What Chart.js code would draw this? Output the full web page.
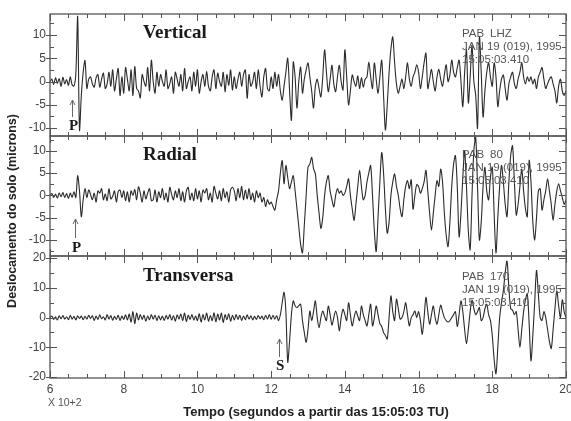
<!DOCTYPE html>
<html>
<head>
<meta charset="utf-8">
<script src="https://cdn.jsdelivr.net/npm/chart.js@4.4.1/dist/chart.umd.min.js"></script>
<style>
  body { margin: 0; background: #fff; }
  #quadro { position: relative; width: 571px; height: 421px; }
  #quadro canvas { position: absolute; left: 0; top: 0; }
</style>
</head>
<body>
<div id="quadro">
  <canvas id="cVertical" width="571" height="421"></canvas>
  <canvas id="cRadial" width="571" height="421"></canvas>
  <canvas id="cTransversa" width="571" height="421"></canvas>
</div>
<script>
//*** Amostras (microns), uma a cada 0,05 x 10+2 s, a partir de t = 6
const inicio = 6;
const passo = 0.05;

const vertical = [
  0, 0.5, -0.6, 0.8, -0.4, 0.6, -1, 0.9, -0.5, 0.4, -0.8, 1, -0.7, -1, 1.5, 14, -10.4, -3, 2, 4.5,
  -1.5, 0.5, 1, -0.5, -1.2, 0.8, 1.5, -1.2, 0.5, 1.8, -1.5, -0.5, 2, -1, 2.5, -2, 0.5, 2.8, -3, 1,
  -2.5, 3, 0.5, -2, 2.5, -3, 3.2, -1.5, -2, -3.5, 1.5, 0, -1, 3, -2, 4.6, 0, -2.5, 2, -1,
  1.5, 0, -1, 2.5, -1.5, -0.5, 1, -2.5, 2, 0.5, -1, 1.5, -2, 2.8, -1.5, 0, 1, -2, 2, -1,
  2.5, -2.5, 0, 1.5, -1, 2.2, -1, -2, 1, 2.5, -1.5, 1.8, 0, -1, 2, -2.2, 1.5, -0.8, 2.5, -1.8,
  1, -1.5, 0.5, 2, -1, 1.5, 2.5, -3.6, 1.5, -1, 0, 2, -1.5, 2.5, -1, -3.3, 1, 2.8, -1.5, -2,
  1, -1.5, 2, -1, 1.5, -2, -4, -1, 2, 5, -2, -8.3, 4.2, 1, -5.7, 0, 3.1, -2.5, 0.5, 2.5,
  4, 1, -2, -5.7, -1, 0.5, -1.5, -3.3, 1, 6.8, 2, -2.2, 0.5, 3.5, -0.5, -2.2, 1, 3.5, 0, -1.8,
  6.8, 1, -5, -2, 1.4, 0, -1, 1.2, -1.5, 0.8, -1.2, 0.5, 1, 4.2, 1, -1.5, 4, 0.5, -2.5, 1,
  4.6, -3, -10.4, -5, 2, 7, 9.6, 4, -0.5, -2.5, -1, 0.5, -1.5, 1, 4, 0.5, -1, 1, 2, 3.6,
  2, -1.5, 1, 4, 6.1, -1.5, 0.5, 2.6, 0, -2, 1, 2.6, 0.5, -1, 1.5, 3.6, 0, 1.5, 4.6, 2,
  1, 3, 4.6, 0, -5.4, 2, 6.8, -4.6, 1, 7.8, 0, -3, -10, 9.6, 2, -7.6, -2, 2, 4, 1,
  -1, 4, 1, -5.4, -2, 0.5, 1.4, -1.5, -4, -0.5, 1, 2, -0.5, -1.5, 0.5, 2, 4, 1, -0.5, 1,
  0, 1, -0.5, 0.5, -1.5, 1, 2, 3, 0.5, -1.5, -0.5, 0.5, 1, -0.5, -2, -4.6, -1, 0.5, -2, -3,
  -2,
];

const radial = [
  0, 0.4, -0.5, 0.3, -0.6, 0.5, -0.3, 0.6, -0.5, 0.4, -0.7, 0.5, -0.4, 0.8, -0.5, 4.4, 1, -4.8, -1, 1.5,
  -0.5, 1.2, 0.2, -1, 0.5, -1.5, 1, 0.5, 1.5, -1, 0.3, -1.2, 1.5, -0.8, -0.2, 1, -1.5, 0.8, 1.2, -0.5,
  1, -1.2, 0.8, -1.5, 1, 0, 1.3, -1, 1.9, 0.5, -1.5, 1, -0.8, 0.5, 1.5, -1.2, -1, 1.2, -1.5, 0.8,
  -0.5, 1.5, -1, 0.5, -1.5, 1.8, 0.2, -1, 1, -0.5, 1.5, -1.2, 0.8, -1.5, 1, 1.8, -1, 0.5, -1.2, 1.5,
  -0.8, 1, -1.5, 1.2, 0.5, 1.5, -1, 0.5, -1.5, 2, 0.5, -0.8, 1, -1.2, 1.5, -0.5, 0.8, -1.5, 1.2, 1.8,
  1, -1.2, 1.5, -0.5, 2, -1, 1.2, -0.8, 1.5, -1, 0.5, -1.5, 1, -0.5, 0.5, -1.5, -0.5, -2.5, -1, -2,
  -1.5, -2.5, -3.3, -1, 1, 5, 7.8, 2.6, 6.7, 4, 1.5, 3, 4.4, 1, -3, -7, -11, -12.9, -6.7, 0,
  6.3, 7, 8.5, 6, 4.8, 0, -4, -7.4, -5, 0, 3, 4.4, 1, -1, -2.6, 0, 1.5, 0.5, 1, 0,
  0.5, 2, 3.7, 0, -3, -5.6, -2, 2, 5.6, 2, -1, 0, 3, 5, 6.7, 0, -8, -12.6, -5, 3,
  9.6, 5, -3, -8.5, -6, 0, 3, 4.8, 2, 0, -3, -4.8, -1, 2, 3.3, 1.5, 3.5, -3.1, 0, 2.4,
  2, 0.5, 1.5, 3, 5.6, 1, -4, -7.8, -4, 0, 3.3, 2, 5.9, 3, -4, -9, -11.5, -6, 2, 7,
  8.9, 2, -9.3, -4, 4, 10, 2, -8, -12.2, 0, 10, 13, 2, -10, -6, 2, 6.3, 1, -1, 4,
  6.3, -4, -12.9, -5, 2, 6.7, 3, -2, -4.8, 3, 9, 11.1, 3, -4.4, -2, 2, 5.9, 1, -3, -4.8,
  7.8, 3, -6, -10, -5, 1, 1.5, -3.3, -1, 1, 3.7, 1, -2, -5.6, -2, 1, 2.6, 1, -0.5, -2,
  -1,
];

const transversa = [
  0, 0.5, -0.6, 0.3, -0.8, 0.6, -0.4, 0.7, -0.5, 0.3, -0.7, 0.8, -0.5, 0.4, -0.8, 0.6, -0.3, 0.5, -0.7, 0.4,
  -0.5, 0.8, -0.3, 0.6, -1, 0.5, -0.6, 0.9, -0.4, 0.3, -0.8, 1, -0.5, 0.7, -0.9, 0.4, -0.6, 0.8, -1, 0.5,
  -0.6, 0.9, -0.8, 1.2, -1.5, 2, -2, 1.5, -0.8, 1, -0.6, 0.8, -1.2, 0.5, -0.7, 1, -0.5, 0.8, -1, 0.6,
  -0.8, 0.5, -1, 0.7, -0.5, 1, -0.8, 0.6, -1.2, 0.9, -0.5, 1.2, -1, 1.5, -1.3, 0.8, -0.6, 1, -0.8, 0.5,
  -1, 1.3, -1.5, 1, -0.8, 1.5, -1.2, 0.7, -1, 1.6, -1.4, 1.2, -0.8, 1.5, -1.6, 1, -0.7, 1.3, -1.2, 0.8,
  -0.8, 1, -0.6, 0.8, -1, 0.5, -0.7, 0.9, -0.5, 0.6, -0.8, 0.4, -0.6, 0.7, -0.4, 0.5, -0.7, 0.8, -0.5, 1,
  -0.6, 0.8, -0.5, 0.6, -1, 1, 5, 8.5, 2, -15, -8, 1, 5.6, 4, 3.4, 4, 4.5, -1, -5, -8.3,
  -4, 2.2, -1, 2, 5.6, 0, -3.4, 0, 2.2, 0.5, -1, 3.9, 1, -2.5, 0, 2.2, 0, -4.5, 0, 2.8,
  1, -1, 5, 1, -2.8, 0, 2.2, 0.5, -1, 3.9, 1, -1, -2.8, 1, 4.5, -2.8, 0, 3.9, 1, -2,
  -3, -5, -6, -7.2, 0, 7.3, 2, -1, 6.2, 3, -0.5, 0, 2, 5, 1, -2.8, 0, 1, 2.2, 0,
  2, -1, -5.6, 0, 6.8, 2, -2.2, 1, 3.9, 0, -2.2, 1, 4.2, 2, 0, -1, -1.5, -1, 0, 1,
  2, -3, 1, 5.6, 2, -4, -8.8, -4, 2, 5.9, 3, 1, 2, 3.4, -1, 0, 3, 4.5, 1, -1,
  -6, -14, -18.9, -10, 0, 5, 9, 15, 19, 10, 3, 2.5, 1, 2, -4, -10, -4, 2, 6, 8,
  -2, -14.5, -6, 5, 15.8, 8, 0, -1, 2, 0, -4, -8, -10.4, -4, 3, 9, 4, 0, 6, 2,
  0,
];

const ticksX = [6, 8, 10, 12, 14, 16, 18, 20];
const ticksVertical = [-10, -5, 0, 5, 10];
const menoresVertical = [-7.5, -2.5, 2.5, 7.5, 12.5];
const ticksRadial = [-10, -5, 0, 5, 10];
const menoresRadial = [-12.5, -7.5, -2.5, 2.5, 7.5, 12.5];
const ticksTransversa = [-20, -10, 0, 10, 20];
const menoresTransversa = [-15, -5, 5, 15];
const estacao = ["JAN 19 (019), 1995", "15:05:03.410"];

const fonteFina = '"Liberation Sans Narrow", "Liberation Sans", sans-serif';
const fonteSerif = '"Liberation Serif", "DejaVu Serif", serif';

//*** Paineis
const paineis = {
  cVertical: {
    dados: vertical, min: -11.7, max: 14.5, ticks: ticksVertical, menores: menoresVertical,
    topo: 14, baixo: 285, eixoX: false,
    nome: "Vertical", nomeY: 38, canal: "LHZ", estacaoY: 37,
    fase: "P", faseX: 69, faseY: 130, seta: [72.5, 117, 100],
  },
  cRadial: {
    dados: radial, min: -13.6, max: 13.3, ticks: ticksRadial, menores: menoresRadial,
    topo: 136, baixo: 165, eixoX: false,
    nome: "Radial", nomeY: 160, canal: "80", estacaoY: 158,
    fase: "P", faseX: 72, faseY: 252, seta: [75.5, 238, 219],
  },
  cTransversa: {
    dados: transversa, min: -20.3, max: 20.7, ticks: ticksTransversa, menores: menoresTransversa,
    topo: 256, baixo: 23, eixoX: true,
    nome: "Transversa", nomeY: 281, canal: "170", estacaoY: 280,
    fase: "S", faseX: 276, faseY: 370, seta: [279.5, 357, 339],
  },
};

const moldura = {
  id: "moldura",
  afterDraw(chart) {
    const p = paineis[chart.canvas.id];
    const { ctx, chartArea: a } = chart;
    const x = chart.scales.x;
    const y = chart.scales.y;
    ctx.save();

    ctx.strokeStyle = "#555";
    ctx.lineWidth = 1.3;
    ctx.strokeRect(a.left, a.top, a.right - a.left, a.bottom - a.top);

    // marcas de tempo em cima e em baixo
    ctx.lineWidth = 1;
    ctx.beginPath();
    for (let t = ticksX[0]; t <= ticksX[ticksX.length - 1]; t += 0.5) {
      const px = Math.round(x.getPixelForValue(t)) + 0.5;
      const len = ticksX.includes(t) ? 7 : 4;
      ctx.moveTo(px, a.top);
      ctx.lineTo(px, a.top + len);
      ctx.moveTo(px, a.bottom);
      ctx.lineTo(px, a.bottom - len);
    }
    p.ticks.forEach((v) => {
      const py = Math.round(y.getPixelForValue(v)) + 0.5;
      ctx.moveTo(a.left - 4, py);
      ctx.lineTo(a.left + 7, py);
      ctx.moveTo(a.right, py);
      ctx.lineTo(a.right - 7, py);
    });
    p.menores.forEach((v) => {
      const py = Math.round(y.getPixelForValue(v)) + 0.5;
      ctx.moveTo(a.left, py);
      ctx.lineTo(a.left + 4, py);
      ctx.moveTo(a.right, py);
      ctx.lineTo(a.right - 4, py);
    });
    ctx.stroke();

    // nome da componente
    ctx.fillStyle = "#1a1a1a";
    ctx.font = "bold 19px " + fonteSerif;
    ctx.textAlign = "left";
    ctx.textBaseline = "alphabetic";
    ctx.fillText(p.nome, 143, p.nomeY);

    // estacao
    ctx.fillStyle = "#555";
    ctx.font = "11.5px " + fonteFina;
    ctx.fillText("PAB", 462, p.estacaoY);
    ctx.fillText(p.canal, 490, p.estacaoY);
    ctx.fillText(estacao[0], 462, p.estacaoY + 13);
    ctx.fillText(estacao[1], 462, p.estacaoY + 26);

    // chegada da onda
    const [sx, y1, y2] = p.seta;
    ctx.strokeStyle = "#666";
    ctx.lineWidth = 1;
    ctx.beginPath();
    ctx.moveTo(sx, y1);
    ctx.lineTo(sx, y2);
    ctx.moveTo(sx - 2.5, y2 + 5);
    ctx.lineTo(sx, y2);
    ctx.lineTo(sx + 2.5, y2 + 5);
    ctx.stroke();
    ctx.fillStyle = "#1a1a1a";
    ctx.font = "bold 15px " + fonteSerif;
    ctx.fillText(p.fase, p.faseX, p.faseY);

    if (p.eixoX) {
      ctx.fillStyle = "#555";
      ctx.font = "10.5px " + fonteFina;
      ctx.fillText("X 10+2", 48, 406);

      ctx.fillStyle = "#222";
      ctx.font = "bold 13px Liberation Sans, Arial, sans-serif";
      ctx.textAlign = "center";
      ctx.fillText("Tempo (segundos a partir das 15:05:03 TU)", 316, 416);

      ctx.translate(13, 211);
      ctx.rotate(-Math.PI / 2);
      ctx.textBaseline = "middle";
      ctx.font = "bold 12.5px Liberation Sans, Arial, sans-serif";
      ctx.fillText("Deslocamento do solo (microns)", 0, 0);
    }
    ctx.restore();
  },
};

const criarPainel = (id) => {
  const p = paineis[id];
  const config = {
    type: "line",
    data: {
      datasets: [
        {
          data: p.dados.map((v, i) => ({ x: inicio + i * passo, y: v })),
          borderColor: "#2b2b2b",
          borderWidth: 1.1,
          pointRadius: 0,
          tension: 0.3,
          fill: false,
        },
      ],
    },
    options: {
      responsive: false,
      animation: false,
      events: [],
      layout: { padding: { left: 0, right: 5, top: p.topo, bottom: p.baixo } },
      plugins: { legend: { display: false }, tooltip: { enabled: false } },
      scales: {
        x: {
          type: "linear",
          min: 6,
          max: 20,
          display: p.eixoX,
          grid: { display: false, drawTicks: false },
          border: { display: false },
          afterBuildTicks: (s) => {
            s.ticks = ticksX.map((v) => ({ value: v }));
          },
          afterFit: (s) => {
            s.height = p.eixoX ? 20 : 0;
            s.paddingLeft = 0;
            s.paddingRight = 0;
          },
          ticks: {
            font: { family: fonteFina, size: 12 },
            color: "#444",
            padding: 4,
            maxRotation: 0,
            autoSkip: false,
          },
        },
        y: {
          min: p.min,
          max: p.max,
          grid: { display: false, drawTicks: false },
          border: { display: false },
          afterBuildTicks: (s) => {
            s.ticks = p.ticks.map((v) => ({ value: v }));
          },
          afterFit: (s) => {
            s.width = 50;
          },
          ticks: {
            font: { family: fonteFina, size: 12 },
            color: "#444",
            padding: 4,
            autoSkip: false,
          },
        },
      },
    },
    plugins: [moldura],
  };
  return new Chart(document.getElementById(id), config);
};

criarPainel("cVertical");
criarPainel("cRadial");
criarPainel("cTransversa");
</script>
</body>
</html>
